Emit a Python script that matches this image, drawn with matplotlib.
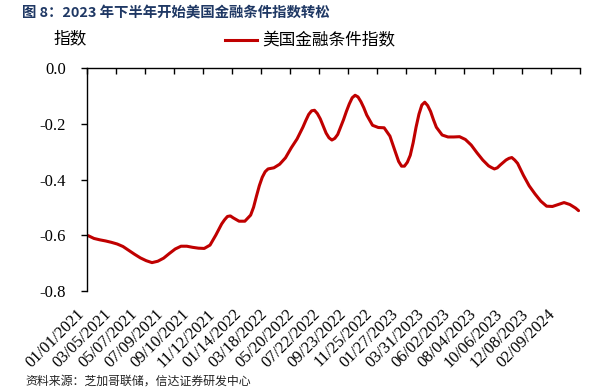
import matplotlib
matplotlib.use("Agg")
import matplotlib.pyplot as plt
from matplotlib.lines import Line2D

# ---- data (weekly index from 01/01/2021) ----
week_idx = [0, 2, 4, 6, 8, 10, 12, 14, 16, 18, 20, 22, 24, 26, 28, 30, 32, 34, 36, 38,
            40, 42, 44, 46, 47, 48, 49, 50, 52, 54, 56, 57, 58, 59, 60, 61, 62, 64, 66, 68,
            70, 72, 74, 75, 76, 77, 78, 79, 80, 82, 83, 84, 85, 86, 88, 89, 90, 91, 92, 93,
            94, 95, 96, 98, 100, 102, 104, 106, 107, 108, 109, 110, 111, 112, 113, 114, 115,
            116, 117, 118, 119, 120, 122, 124, 126, 128, 130, 132, 134, 136, 138, 139, 140,
            141, 142, 144, 145, 146, 147, 148, 150, 152, 154, 156, 158, 160, 162, 164, 166,
            168, 169]
nfci = [-0.602, -0.612, -0.617, -0.621, -0.626, -0.632, -0.641, -0.655, -0.669, -0.682,
        -0.692, -0.699, -0.694, -0.683, -0.666, -0.650, -0.640, -0.640, -0.644, -0.647,
        -0.648, -0.636, -0.600, -0.560, -0.545, -0.533, -0.531, -0.538, -0.550, -0.550,
        -0.528, -0.500, -0.460, -0.422, -0.392, -0.372, -0.362, -0.358, -0.345, -0.322,
        -0.286, -0.254, -0.212, -0.188, -0.166, -0.153, -0.151, -0.163, -0.182, -0.233,
        -0.250, -0.258, -0.252, -0.238, -0.185, -0.155, -0.128, -0.106, -0.097, -0.103,
        -0.120, -0.142, -0.168, -0.205, -0.213, -0.214, -0.244, -0.305, -0.335, -0.352,
        -0.352, -0.338, -0.313, -0.268, -0.212, -0.165, -0.132, -0.122, -0.134, -0.155,
        -0.185, -0.212, -0.240, -0.247, -0.247, -0.246, -0.256, -0.276, -0.304, -0.330,
        -0.351, -0.357, -0.362, -0.358, -0.348, -0.330, -0.324, -0.321, -0.330, -0.342,
        -0.385, -0.423, -0.452, -0.478, -0.496, -0.497, -0.490, -0.483, -0.490, -0.503,
        -0.512]
n_weeks = 170
tick_labels = ["01/01/2021", "03/05/2021", "05/07/2021", "07/09/2021", "09/10/2021",
               "11/12/2021", "01/14/2022", "03/18/2022", "05/20/2022", "07/22/2022",
               "09/23/2022", "11/25/2022", "01/27/2023", "03/31/2023", "06/02/2023",
               "08/04/2023", "10/06/2023", "12/08/2023", "02/09/2024"]
label_step = 9
mark_step = 10
y_ticks = [0.0, -0.2, -0.4, -0.6, -0.8]

series_name = "美国金融条件指数"
title = "图 8：2023 年下半年开始美国金融条件指数转松"
ylabel = "指数"
source = "资料来源：芝加哥联储，信达证券研发中心"

W, H = 597, 387
fig = plt.figure(figsize=(W / 100, H / 100), dpi=100)
cjk = ["Noto Sans CJK SC", "DejaVu Sans"]
serif = ["Liberation Serif", "DejaVu Serif"]

left, right, top, bottom = 86.7, 580.0, 68.3, 290.7
ax = fig.add_axes([left / W, 1 - bottom / H, (right - left) / W, (bottom - top) / H])

red = "#C00000"
ax.plot(week_idx, nfci, color=red, lw=2.2, solid_capstyle="round", solid_joinstyle="round")

ax.set_xlim(-0.5, n_weeks - 0.5)
ax.set_ylim(-0.8, 0.0)

for s in ["right", "bottom"]:
    ax.spines[s].set_visible(False)
for s in ["left", "top"]:
    ax.spines[s].set_linewidth(1.0)
    ax.spines[s].set_color("black")

# tick marks on the zero line (top)
ax.set_xticks([-0.5 + mark_step * k for k in range(n_weeks // mark_step + 1)])
ax.tick_params(axis="x", which="major", top=True, bottom=False, direction="in",
               length=4, width=1.0, labeltop=False, labelbottom=False)
# category labels at bottom
ax.set_xticks([label_step * k for k in range(len(tick_labels))], minor=True)
ax.set_xticklabels(tick_labels, minor=True, rotation=45, ha="right", va="top",
                   fontfamily=serif, fontsize=12)
ax.tick_params(axis="x", which="minor", bottom=True, top=False, length=0,
               labelbottom=True, pad=11)

ax.set_yticks(y_ticks)
ax.set_yticklabels([f"{v:.1f}" for v in y_ticks], fontfamily=serif, fontsize=12)
ax.tick_params(axis="y", direction="out", length=4, width=1.0, pad=11)

fig.text(22 / W, 1 - 12 / H, title, fontfamily=cjk, fontsize=10.4, fontweight="bold",
         color="#1F3864", ha="left", va="center")
fig.text(53 / W, 1 - 39 / H, ylabel, fontfamily=cjk, fontsize=12, ha="left", va="center")

handle = Line2D([], [], color=red, lw=2.2)
fig.legend([handle], [series_name], loc="center left",
           bbox_to_anchor=(225 / W, 1 - 41 / H), frameon=False, borderpad=0,
           borderaxespad=0, handlelength=1.92, handletextpad=0.3,
           prop={"family": cjk, "size": 12})

fig.text(25 / W, 1 - 381 / H, source, fontfamily=cjk, fontsize=8.6, ha="left", va="center",
         color="#222222")

fig.savefig("out.png", dpi=100)
